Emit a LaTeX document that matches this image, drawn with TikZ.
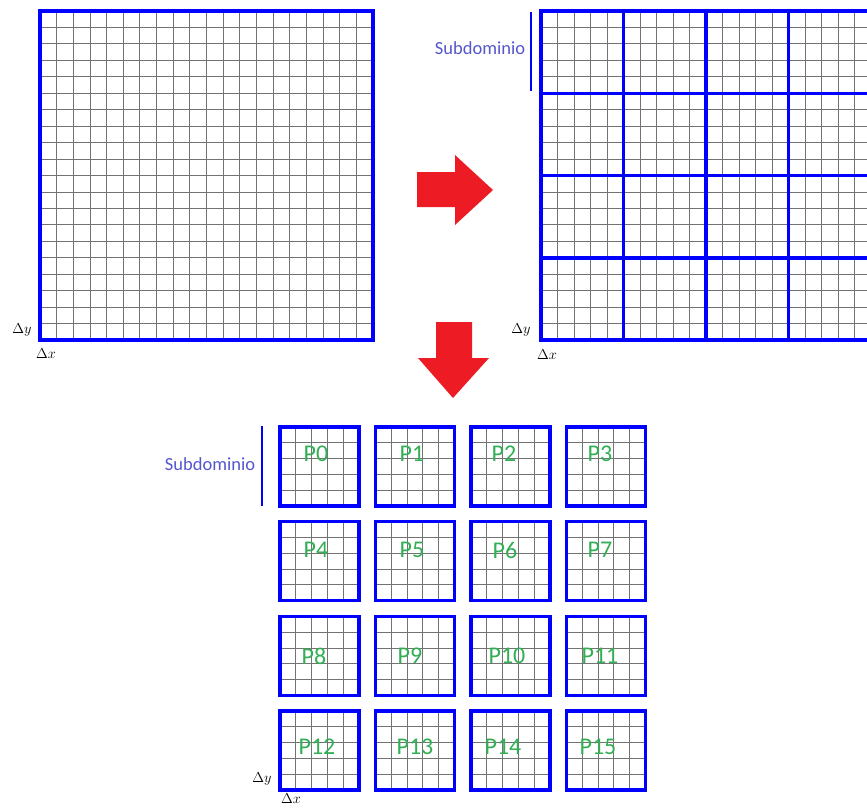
\documentclass[tikz,border=0pt]{standalone}
\usepackage{fontspec}
\setmainfont{Carlito}
\usetikzlibrary{positioning}

\definecolor{domblue}{RGB}{0,0,255}
\definecolor{subblue}{RGB}{85,85,205}
\definecolor{pgreen}{RGB}{50,175,85}
\definecolor{arrowred}{RGB}{237,28,36}

\begin{document}
\begin{tikzpicture}[x=1pt,y=-1pt,
  cellline/.style={black!55,line width=0.9pt},
  domline/.style={domblue,line width=3.5pt},
  subline/.style={domblue,line width=1.8pt},
  sublabel/.style={subblue,font=\fontsize{18.5}{22}\selectfont},
  plabel/.style={pgreen,font=\fontsize{24}{28}\selectfont},
  deltalabel/.style={font=\fontsize{15}{17}\selectfont},
  bigarrow/.style={fill=arrowred,draw=none}]
  \useasboundingbox (0,0) rectangle (867,807);
  % full mesh
  \foreach \i in {1,...,19}{
    \draw[cellline] ({40+16.65*\i},11) -- ({40+16.65*\i},340);
    \draw[cellline] (40,{11+16.45*\i}) -- (373,{11+16.45*\i});
  }
  \draw[domline] (40,11) rectangle (373,340);
  \node[deltalabel] (dy1) at (22,330) {$\Delta y$};
  \node[deltalabel] (dx1) at (46,354) {$\Delta x$};
  % split mesh
  \foreach \i in {1,...,19}{
    \draw[cellline] ({541+16.5*\i},11) -- ({541+16.5*\i},340);
    \draw[cellline] (541,{11+16.45*\i}) -- (871,{11+16.45*\i});
  }
  \foreach \k in {1,...,3}{
    \draw[domline] ({541+82.5*\k},11) -- ({541+82.5*\k},340);
    \draw[domline] (541,{11+82.25*\k}) -- (871,{11+82.25*\k});
  }
  \draw[domline] (541,11) rectangle (871,340);
  \node[deltalabel] (dy2) at (521,330) {$\Delta y$};
  \node[deltalabel] (dx2) at (547,355) {$\Delta x$};
  \draw[subline] (531,12) -- (531,91);
  \node[sublabel] (sub1) at (480,48) {Subdominio};
  % arrows
  \fill[bigarrow] (417,172) -- (455,172) -- (455,155) -- (493,190)
    -- (455,225) -- (455,207) -- (417,207) -- cycle;
  \fill[bigarrow] (436,322) -- (472,322) -- (472,358) -- (489,358)
    -- (453,398) -- (418,358) -- (436,358) -- cycle;
  % processes
  \foreach \r in {0,...,3}{
    \foreach \c in {0,...,3}{
      \pgfmathsetmacro\bx{280+95.5*\c}
      \pgfmathsetmacro\by{427+94.7*\r}
      \foreach \k in {1,...,4}{
        \draw[cellline] ({\bx+15.8*\k},\by) -- ++(0,79);
        \draw[cellline] (\bx,{\by+15.8*\k}) -- ++(79,0);
      }
      \draw[domline] (\bx,\by) rectangle ++(79,79);
    }
  }
  \foreach \n/\x/\y in {0/316/454,1/412/454,2/504/454,3/600/454,
                        4/316/550,5/412/550,6/505/550,7/600/550,
                        8/314/656,9/410/656,10/507/656,11/600/656,
                        12/317/747,13/415/747,14/503/747,15/598/747}{
    \node[plabel] (p\n) at (\x,\y) {P\n};
  }
  \draw[subline] (262,426) -- (262,506);
  \node[sublabel] (sub2) at (210,464) {Subdominio};
  \node[deltalabel] (dy3) at (262,779) {$\Delta y$};
  \node[deltalabel] (dx3) at (291,799) {$\Delta x$};
\end{tikzpicture}
\end{document}
